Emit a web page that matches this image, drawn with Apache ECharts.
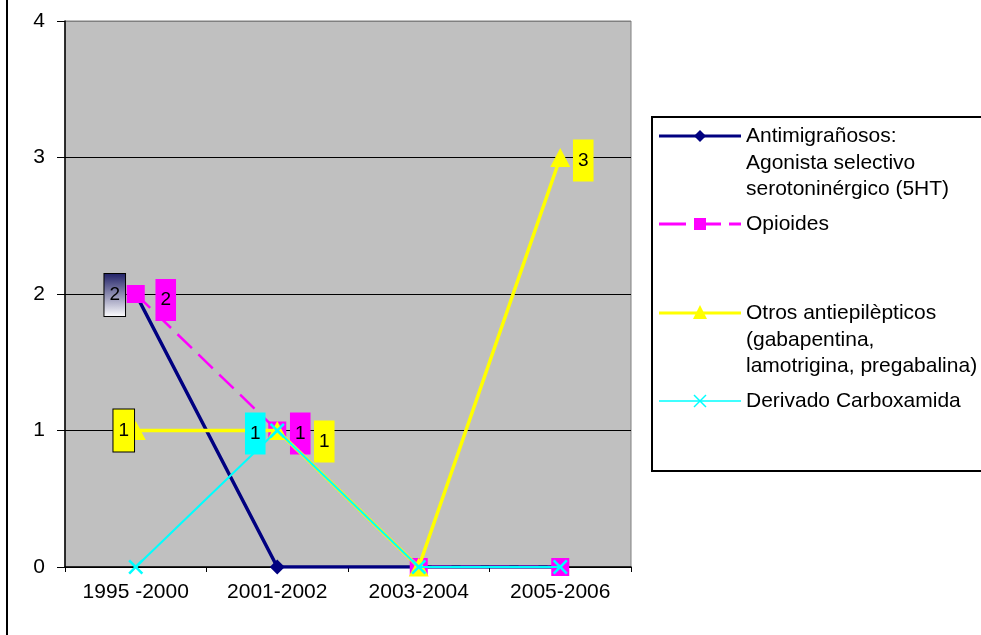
<!DOCTYPE html>
<html>
<head>
<meta charset="utf-8">
<script src="https://cdn.jsdelivr.net/npm/echarts@6/dist/echarts.min.js"></script>
<style>
  html, body { margin: 0; padding: 0; background: #fff; }
  #chart { width: 981px; height: 635px; }
</style>
</head>
<body>
<div id="chart"></div>
<script>
// Periods on the x axis
const categories = ['1995 -2000', '2001-2002', '2003-2004', '2005-2006'];

// Counts per period for each drug group
const antimigranosos = [2, 0, 0, 0];
const opioides = [2, 1, 0, 0];
const antiepilepticos = [1, 1, 0, 3];
const carboxamida = [0, 1, 0, 0];

// Value-axis ticks
const yTicks = [0, 1, 2, 3, 4];

// Legend text (wrapped as in the legend box)
const legendNames = [
  'Antimigrañosos:\nAgonista selectivo\nserotoninérgico (5HT)',
  'Opioides',
  'Otros antiepilèpticos\n(gabapentina,\nlamotrigina, pregabalina)',
  'Derivado Carboxamida'
];

const FONT = '"Liberation Sans", Arial, sans-serif';
const NAVY = '#000080', MAGENTA = '#FF00FF', YELLOW = '#FFFF00', CYAN = '#00FFFF';
const X_PATH = 'path://M0,1.2L1.2,0L5,3.8L8.8,0L10,1.2L6.2,5L10,8.8L8.8,10L5,6.2L1.2,10L0,8.8L3.8,5Z';

// Where each data label box sits relative to its point (null = no label)
const labelOffsets = {
  antimigranosos: [[-21, 1], null, null, null],
  opioides: [[30, 6], [23, 3], null, null],
  antiepilepticos: [[-12, 0], [47, 11], null, [23, 3]],
  carboxamida: [null, [-22, 3], null, null]
};

const navyGradient = {
  type: 'linear', x: 0, y: 0, x2: 0, y2: 1,
  colorStops: [{ offset: 0, color: '#1f1f66' }, { offset: 1, color: '#ffffff' }]
};

const boxStyles = {
  antimigranosos: { backgroundColor: navyGradient, borderColor: '#000', borderWidth: 1 },
  opioides: { backgroundColor: MAGENTA },
  antiepilepticos: { backgroundColor: YELLOW },
  carboxamida: { backgroundColor: CYAN }
};
// The first yellow box carries a black frame
const framedBoxes = { antiepilepticos: [0] };

function buildData(key, values) {
  return values.map((v, i) => {
    const off = labelOffsets[key][i];
    if (!off) return { value: v, label: { show: false } };
    const framed = (framedBoxes[key] || []).indexOf(i) >= 0;
    return {
      value: v,
      label: Object.assign({
        show: true,
        position: 'inside',
        offset: off,
        formatter: '{c}',
        fontFamily: FONT,
        fontSize: 19,
        color: '#000',
        padding: [11, 5, 11, 5],
        lineHeight: 20
      }, boxStyles[key], framed ? { borderColor: '#000', borderWidth: 1 } : {})
    };
  });
}

const chart = echarts.init(document.getElementById('chart'), null, { renderer: 'canvas' });

// Legend box drawn by hand: line sample, marker and wrapped text
const legendRows = [
  { y: 136, color: NAVY, dash: null, width: 3, marker: 'diamond' },
  { y: 224, color: MAGENTA, dash: [27, 8], width: 3, marker: 'square' },
  { y: 313, color: YELLOW, dash: null, width: 3, marker: 'triangle' },
  { y: 401, color: CYAN, dash: null, width: 1.5, marker: 'x' }
];
const legendGraphics = [
  { type: 'rect', shape: { x: 652, y: 117, width: 340, height: 354 },
    style: { fill: '#fff', stroke: '#000', lineWidth: 2 } },
  { type: 'line', shape: { x1: 7, y1: -2, x2: 7, y2: 640 }, style: { stroke: '#000', lineWidth: 2 } }
];
legendRows.forEach((r, i) => {
  legendGraphics.push({ type: 'line', shape: { x1: 659, y1: r.y, x2: 741, y2: r.y },
    style: { stroke: r.color, lineWidth: r.width, lineDash: r.dash } });
  const cx = 700, cy = r.y;
  let m;
  if (r.marker === 'diamond') {
    m = { type: 'polygon', shape: { points: [[cx, cy - 6], [cx + 6, cy], [cx, cy + 6], [cx - 6, cy]] }, style: { fill: r.color } };
  } else if (r.marker === 'square') {
    m = { type: 'rect', shape: { x: cx - 6, y: cy - 6, width: 12, height: 12 }, style: { fill: r.color } };
  } else if (r.marker === 'triangle') {
    m = { type: 'polygon', shape: { points: [[cx, cy - 8], [cx + 7, cy + 6], [cx - 7, cy + 6]] }, style: { fill: r.color } };
  } else {
    m = { type: 'group', children: [
      { type: 'line', shape: { x1: cx - 6, y1: cy - 6, x2: cx + 6, y2: cy + 6 }, style: { stroke: r.color, lineWidth: 1.5 } },
      { type: 'line', shape: { x1: cx - 6, y1: cy + 6, x2: cx + 6, y2: cy - 6 }, style: { stroke: r.color, lineWidth: 1.5 } }
    ] };
  }
  legendGraphics.push(m);
  legendGraphics.push({ type: 'text', x: 746, y: r.y - 13,
    style: { text: legendNames[i], fontFamily: FONT, fontSize: 21, lineHeight: 26.5,
      fill: '#000', textVerticalAlign: 'top' } });
});

const option = {
  animation: false,
  backgroundColor: '#ffffff',
  grid: {
    left: 65, top: 21, width: 566, height: 546,
    show: true, backgroundColor: '#C0C0C0', borderColor: '#808080', borderWidth: 1
  },
  xAxis: {
    type: 'category',
    data: categories,
    boundaryGap: true,
    axisLine: { lineStyle: { color: '#000', width: 1.5 } },
    axisTick: { show: true, length: 5, alignWithLabel: false, lineStyle: { color: '#000' } },
    axisLabel: { color: '#000', fontFamily: FONT, fontSize: 21, margin: 15, interval: 0 },
    splitLine: { show: false }
  },
  yAxis: {
    type: 'value',
    min: yTicks[0],
    max: yTicks[yTicks.length - 1],
    interval: 1,
    axisLine: { show: true, lineStyle: { color: '#000', width: 1.5 } },
    axisTick: { show: true, length: 8, lineStyle: { color: '#000' } },
    axisLabel: { color: '#000', fontFamily: FONT, fontSize: 21, margin: 20 },
    splitLine: { show: true, lineStyle: { color: ['#000', '#000', '#000', '#000', '#808080'], width: 1 } }
  },
  series: [
    {
      name: legendNames[0], type: 'line', data: buildData('antimigranosos', antimigranosos),
      symbol: 'diamond', symbolSize: 15, showAllSymbol: true,
      lineStyle: { color: NAVY, width: 3.5 }, itemStyle: { color: NAVY }, z: 2
    },
    {
      name: legendNames[1], type: 'line', data: buildData('opioides', opioides),
      symbol: 'rect', symbolSize: 18, showAllSymbol: true,
      lineStyle: { color: MAGENTA, width: 2.5, type: [20, 9] }, itemStyle: { color: MAGENTA }, z: 3
    },
    {
      name: legendNames[2], type: 'line', data: buildData('antiepilepticos', antiepilepticos),
      symbol: 'triangle', symbolSize: [20, 19], showAllSymbol: true,
      lineStyle: { color: YELLOW, width: 3.5 }, itemStyle: { color: YELLOW }, z: 4
    },
    {
      name: legendNames[3], type: 'line', data: buildData('carboxamida', carboxamida),
      symbol: X_PATH, symbolSize: 15, showAllSymbol: true,
      lineStyle: { color: CYAN, width: 2 }, itemStyle: { color: CYAN }, z: 5
    }
  ],
  graphic: legendGraphics
};

chart.setOption(option);
</script>
</body>
</html>
